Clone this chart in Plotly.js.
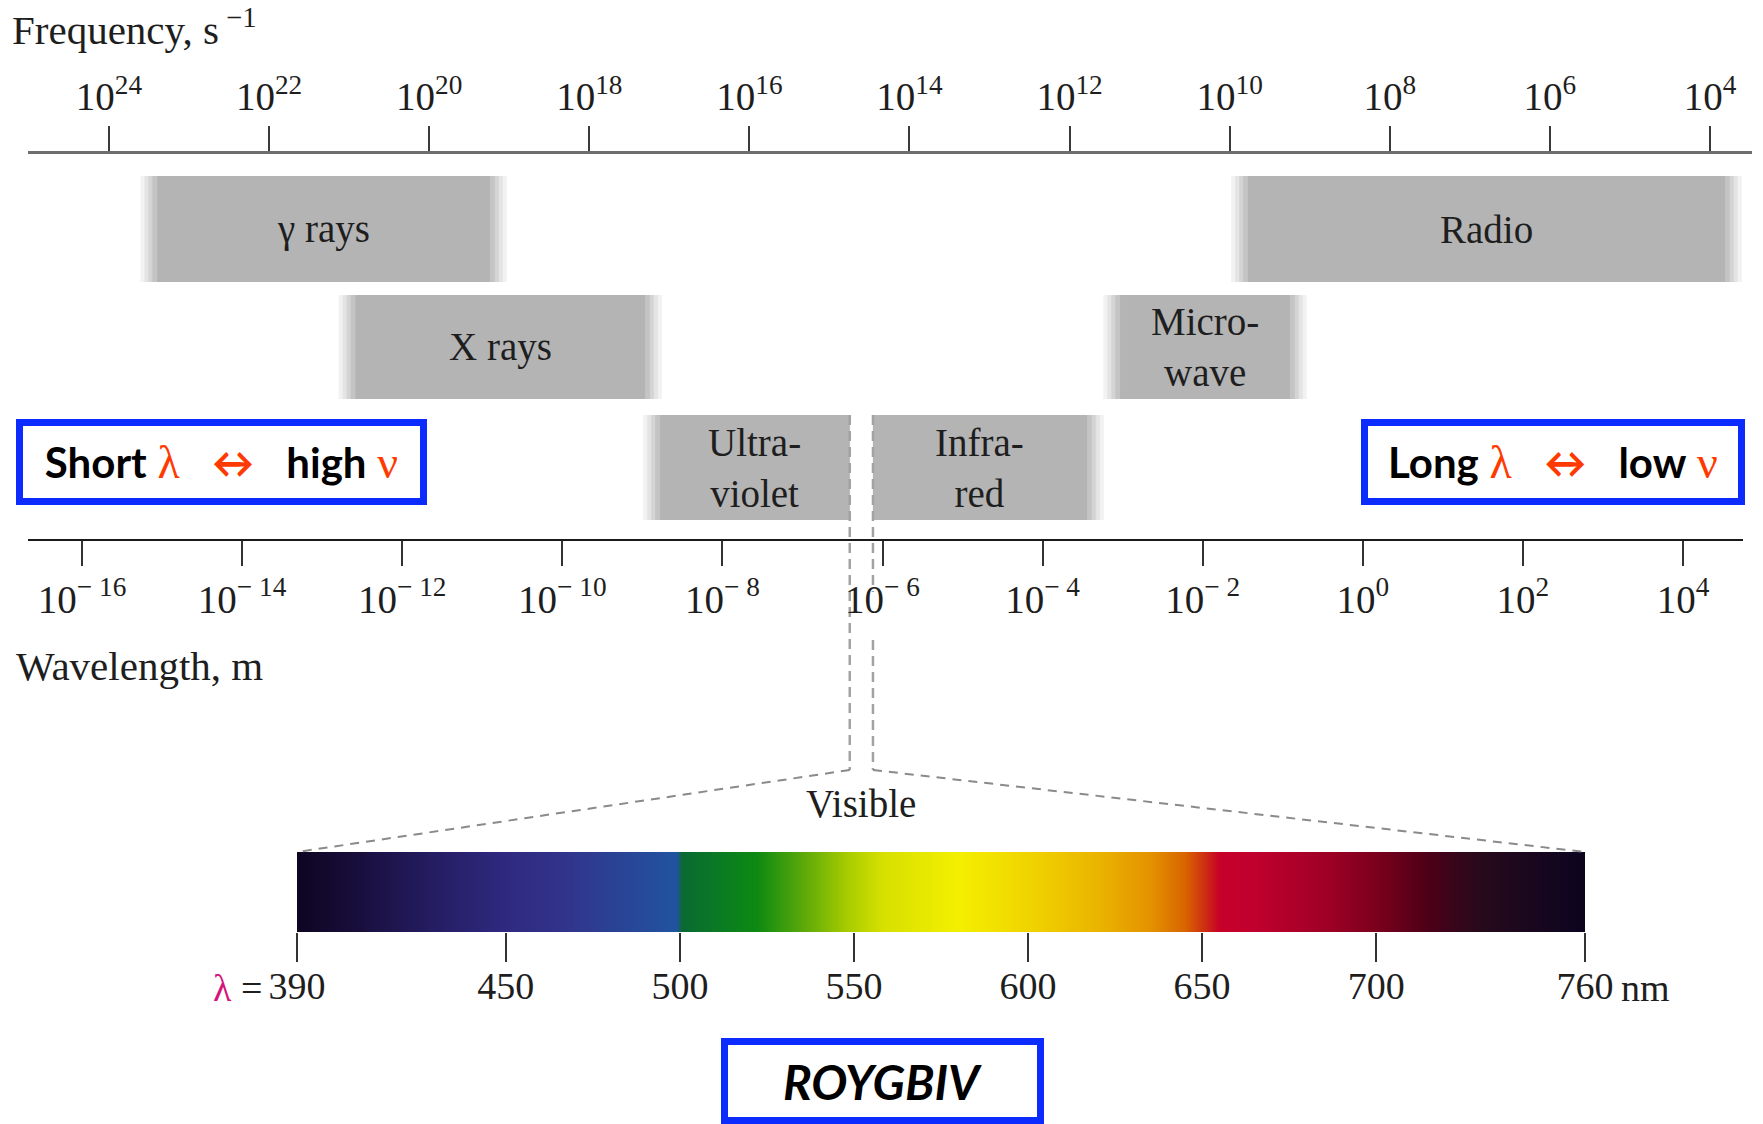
<!DOCTYPE html>
<html>
<head>
<meta charset="utf-8">
<script src="https://cdn.plot.ly/plotly-3.0.1.min.js"></script>
<style>html,body{margin:0;padding:0;background:#fff;}#chart{width:1763px;height:1124px;}</style>
</head>
<body>
<div id="chart"></div>
<script>
// ---------------- DATA ----------------
const freqTicks = [1e24, 1e22, 1e20, 1e18, 1e16, 1e14, 1e12, 1e10, 1e8, 1e6, 1e4];
const freqTickText = ['10<sup>24</sup>', '10<sup>22</sup>', '10<sup>20</sup>', '10<sup>18</sup>', '10<sup>16</sup>',
  '10<sup>14</sup>', '10<sup>12</sup>', '10<sup>10</sup>', '10<sup>8</sup>', '10<sup>6</sup>', '10<sup>4</sup>'];

const waveTicks = [1e-16, 1e-14, 1e-12, 1e-10, 1e-8, 1e-6, 1e-4, 1e-2, 1e0, 1e2, 1e4];
const waveTickText = ['10<sup>− 16</sup>', '10<sup>− 14</sup>', '10<sup>− 12</sup>', '10<sup>− 10</sup>', '10<sup>− 8</sup>',
  '10<sup>− 6</sup>', '10<sup>− 4</sup>', '10<sup>− 2</sup>', '10<sup>0</sup>', '10<sup>2</sup>', '10<sup>4</sup>'];

// spectral regions, wavelength extent in metres
const bandNames = ['γ rays', 'X rays', 'Ultra-<br>violet', 'Infra-<br>red', 'Micro-<br>wave', 'Radio'];
const bandMinM  = [8.7e-16, 2.6e-13, 1.66e-9, 7.6e-7, 9.3e-4, 0.0368];
const bandMaxM  = [1.25e-11, 1.08e-9, 3.9e-7, 3.59e-4, 0.123, 3.35e4];

// visible window (m) and its nm scale
const visibleRangeM = [390e-9, 760e-9];
const nmTicks = [390, 450, 500, 550, 600, 650, 700, 760];

// colour of the visible strip at given wavelengths (nm)
const spectrumNm = [390, 405, 425, 450, 465, 480, 499, 500.5, 512, 522, 535, 548, 558, 580, 600, 620, 635, 645, 651, 655, 665, 685, 700, 715, 730, 760];
const spectrumColor = ['#0e0522', '#170d38', '#231a5c', '#2f2a80', '#32328a', '#2b4193', '#2153a0', '#0a6a32', '#0a7c22', '#0e8a12',
  '#5aa80a', '#a8cc00', '#d6e000', '#f4ef00', '#f0d400', '#eab400', '#e49200', '#d86400', '#cc2a14', '#c8002a',
  '#c0002e', '#a00026', '#7c001c', '#4c0018', '#260a1c', '#0c0420'];

// ---------------- LAYOUT CONSTANTS ----------------
const W = 1763, H = 1124;
const SERIF = '"Liberation Serif", "Times New Roman", serif';
const SANS = 'Lato, "Open Sans", sans-serif';
const TXT = '#1e1e1e';
const RED = '#ff3a00';
const rowOf = {'γ rays': [176, 282], 'X rays': [295, 399], 'Ultra-<br>violet': [415, 520],
  'Infra-<br>red': [415, 520], 'Micro-<br>wave': [295, 399], 'Radio': [176, 282]};
const FREQ_AXIS_Y = 152, WAVE_AXIS_Y = 540, DIAG_TOP = 770, STRIP_TOP = 852, STRIP_BOT = 932;
const LABEL_GAP = [592, 640];   // where the 10^-6 label hides the right dashed line

const traces = [];

// invisible trace so the frequency axis exists
traces.push({type: 'scatter', x: [freqTicks[0], freqTicks[freqTicks.length - 1]], y: [FREQ_AXIS_Y, FREQ_AXIS_Y],
  xaxis: 'x', yaxis: 'y', mode: 'markers', marker: {opacity: 0}, hoverinfo: 'skip'});

// gray bands with soft edges
const layers = [{pad: 0.21, color: '#f2f2f2'}, {pad: 0.16, color: '#e4e4e4'}, {pad: 0.11, color: '#d4d4d4'},
  {pad: 0.06, color: '#c4c4c4'}, {pad: 0, color: '#b4b4b4'}];
bandNames.forEach((name, i) => {
  const [y0, y1] = rowOf[name];
  layers.forEach(L => {
    const padLo = (bandMinM[i] === visibleRangeM[1]) ? 0 : L.pad;
    const padHi = (bandMaxM[i] === visibleRangeM[0]) ? 0 : L.pad;
    const lo = bandMinM[i] / Math.pow(10, padLo);
    const hi = bandMaxM[i] * Math.pow(10, padHi);
    traces.push({type: 'scatter', xaxis: 'x2', yaxis: 'y', x: [lo, hi, hi, lo, lo], y: [y0, y0, y1, y1, y0],
      mode: 'lines', line: {width: 0}, fill: 'toself', fillcolor: L.color, hoverinfo: 'skip'});
  });
});

// dashed vertical lines at the visible limits
visibleRangeM.forEach((m, i) => {
  const top = rowOf['Ultra-<br>violet'][0];
  const xs = i === 0 ? [m, m] : [m, m, null, m, m];
  const ys = i === 0 ? [top, DIAG_TOP] : [top, LABEL_GAP[0], null, LABEL_GAP[1], DIAG_TOP];
  traces.push({type: 'scatter', xaxis: 'x2', yaxis: 'y', x: xs, y: ys, connectgaps: false,
    mode: 'lines', line: {color: '#a2a2a2', width: 2.5, dash: '10px,6px'}, hoverinfo: 'skip'});
});

// visible spectrum strip
const cscale = spectrumNm.map((nm, i) => [(nm - spectrumNm[0]) / (spectrumNm[spectrumNm.length - 1] - spectrumNm[0]), spectrumColor[i]]);
traces.push({type: 'heatmap', xaxis: 'x3', yaxis: 'y3', x: spectrumNm, y: [0], z: [spectrumNm],
  zmin: spectrumNm[0], zmax: spectrumNm[spectrumNm.length - 1], colorscale: cscale, zsmooth: 'best',
  showscale: false, hoverinfo: 'skip'});

// ---------------- ANNOTATIONS ----------------
const annotations = [];
annotations.push({xref: 'paper', yref: 'y', x: 10 / W, y: 27, xanchor: 'left', yanchor: 'middle', showarrow: false,
  text: 'Frequency, s<sup> −1</sup>', font: {family: SERIF, size: 41, color: TXT}});
annotations.push({xref: 'paper', yref: 'y', x: 14 / W, y: 666, xanchor: 'left', yanchor: 'middle', showarrow: false,
  text: 'Wavelength, m', font: {family: SERIF, size: 41, color: TXT}});

bandNames.forEach((name, i) => {
  const [y0, y1] = rowOf[name];
  annotations.push({xref: 'x2', yref: 'y', x: (Math.log10(bandMinM[i]) + Math.log10(bandMaxM[i])) / 2, y: (y0 + y1) / 2,
    xanchor: 'center', yanchor: 'middle', showarrow: false, text: name, font: {family: SERIF, size: 39, color: TXT}});
});

annotations.push({xref: 'x2', yref: 'y', x: (Math.log10(visibleRangeM[0]) + Math.log10(visibleRangeM[1])) / 2, y: 803,
  xanchor: 'center', yanchor: 'middle', showarrow: false, text: 'Visible', font: {family: SERIF, size: 39, color: TXT}});

annotations.push({xref: 'x3', yref: 'y', x: nmTicks[0], y: 988, xanchor: 'right', yanchor: 'middle', xshift: -33,
  showarrow: false, text: '<span style="color:#d4147a">λ</span> =', font: {family: SERIF, size: 38, color: TXT}});
annotations.push({xref: 'x3', yref: 'y', x: nmTicks[nmTicks.length - 1], y: 988, xanchor: 'left', yanchor: 'middle', xshift: 34,
  showarrow: false, text: 'nm', font: {family: SERIF, size: 38, color: TXT}});

const boxStyle = {showarrow: false, bordercolor: '#0b2bff', borderwidth: 7, borderpad: 0, bgcolor: '#ffffff',
  xanchor: 'center', yanchor: 'middle', xref: 'paper', yref: 'y'};
const sp = '&nbsp;&nbsp;&nbsp;';
const greek = (ch) => '<span style="color:' + RED + ';font-family:\'Liberation Serif\',serif;font-size:46px">' + ch + '</span>';
const arrow = '<b><span style="color:' + RED + '">↔</span></b>';
annotations.push(Object.assign({}, boxStyle, {x: 221.5 / W, y: 462, width: 397, height: 72,
  text: '<b>Short</b> ' + greek('λ') + sp + arrow + sp + '<b>high</b> ' + greek('ν'),
  font: {family: SANS, size: 42, color: '#000'}}));
annotations.push(Object.assign({}, boxStyle, {x: 1552.5 / W, y: 462, width: 370, height: 72,
  text: '<b>Long</b> ' + greek('λ') + sp + arrow + sp + '<b>low</b> ' + greek('ν'),
  font: {family: SANS, size: 42, color: '#000'}}));
annotations.push(Object.assign({}, boxStyle, {x: 882.5 / W, y: 1081, width: 309, height: 72,
  text: '<b><i>ROYGBIV</i></b>', font: {family: SANS, size: 48, color: '#000'}}));

// ---------------- LAYOUT ----------------
const layout = {
  width: W, height: H, margin: {l: 0, r: 0, t: 0, b: 0},
  paper_bgcolor: '#ffffff', plot_bgcolor: 'rgba(0,0,0,0)', showlegend: false,
  font: {family: SERIF, color: TXT},
  xaxis: {type: 'log', domain: [28 / W, 1752 / W], range: [25.012, 3.475], anchor: 'free', position: 1 - FREQ_AXIS_Y / H,
    side: 'top', showline: true, linecolor: '#6e6e6e', linewidth: 3, ticks: 'outside', ticklen: 25, tickwidth: 2,
    tickcolor: '#3a3a3a', tickmode: 'array', tickvals: freqTicks, ticktext: freqTickText, tickfont: {family: SERIF, size: 39, color: TXT},
    showgrid: false, zeroline: false, fixedrange: true},
  xaxis2: {type: 'log', domain: [28 / W, 1743 / W], range: [-16.675, 4.750], anchor: 'free', position: 1 - WAVE_AXIS_Y / H,
    side: 'bottom', showline: true, linecolor: '#1a1a1a', linewidth: 2, ticks: 'outside', ticklen: 25, tickwidth: 2,
    tickcolor: '#333333', tickmode: 'array', tickvals: waveTicks, ticktext: waveTickText, tickfont: {family: SERIF, size: 39, color: TXT},
    showgrid: false, zeroline: false, fixedrange: true},
  xaxis3: {type: 'linear', domain: [297 / W, 1585 / W], range: [nmTicks[0], nmTicks[nmTicks.length - 1]], anchor: 'y3',
    side: 'bottom', showline: false, ticks: 'outside', ticklen: 29, tickwidth: 2, tickcolor: '#333333', ticklabelstandoff: -9,
    tickmode: 'array', tickvals: nmTicks, ticktext: nmTicks.map(String), tickfont: {family: SERIF, size: 38, color: TXT},
    showgrid: false, zeroline: false, fixedrange: true},
  yaxis: {domain: [0, 1], range: [H, 0], visible: false, fixedrange: true},
  yaxis3: {domain: [1 - STRIP_BOT / H, 1 - STRIP_TOP / H], range: [-0.5, 0.5], visible: false, anchor: 'x3', fixedrange: true},
  annotations: annotations
};

const gd = document.getElementById('chart');
Plotly.newPlot(gd, traces, layout, {displayModeBar: false, staticPlot: true}).then(function (g) {
  // dashed fan from the visible window on the wavelength axis to the ends of the strip
  const fl = g._fullLayout;
  const ax2 = fl.xaxis2, ax3 = fl.xaxis3, ay = fl.yaxis;
  const ends = [nmTicks[0], nmTicks[nmTicks.length - 1]];
  const shapes = visibleRangeM.map(function (m, i) {
    const pxTop = ax2._offset + ax2.d2p(m);
    const pxBot = ax3._offset + ax3.c2p(ends[i]);
    const pyTop = ay._offset + ay.c2p(DIAG_TOP);
    const pyBot = ay._offset + ay.c2p(STRIP_TOP);
    return {type: 'line', xref: 'paper', yref: 'paper', x0: pxTop / fl.width, x1: pxBot / fl.width,
      y0: 1 - pyTop / fl.height, y1: 1 - pyBot / fl.height, line: {color: '#8a8a8a', width: 2, dash: '9px,7px'}};
  });
  return Plotly.relayout(g, {shapes: shapes});
});
</script>
</body>
</html>
